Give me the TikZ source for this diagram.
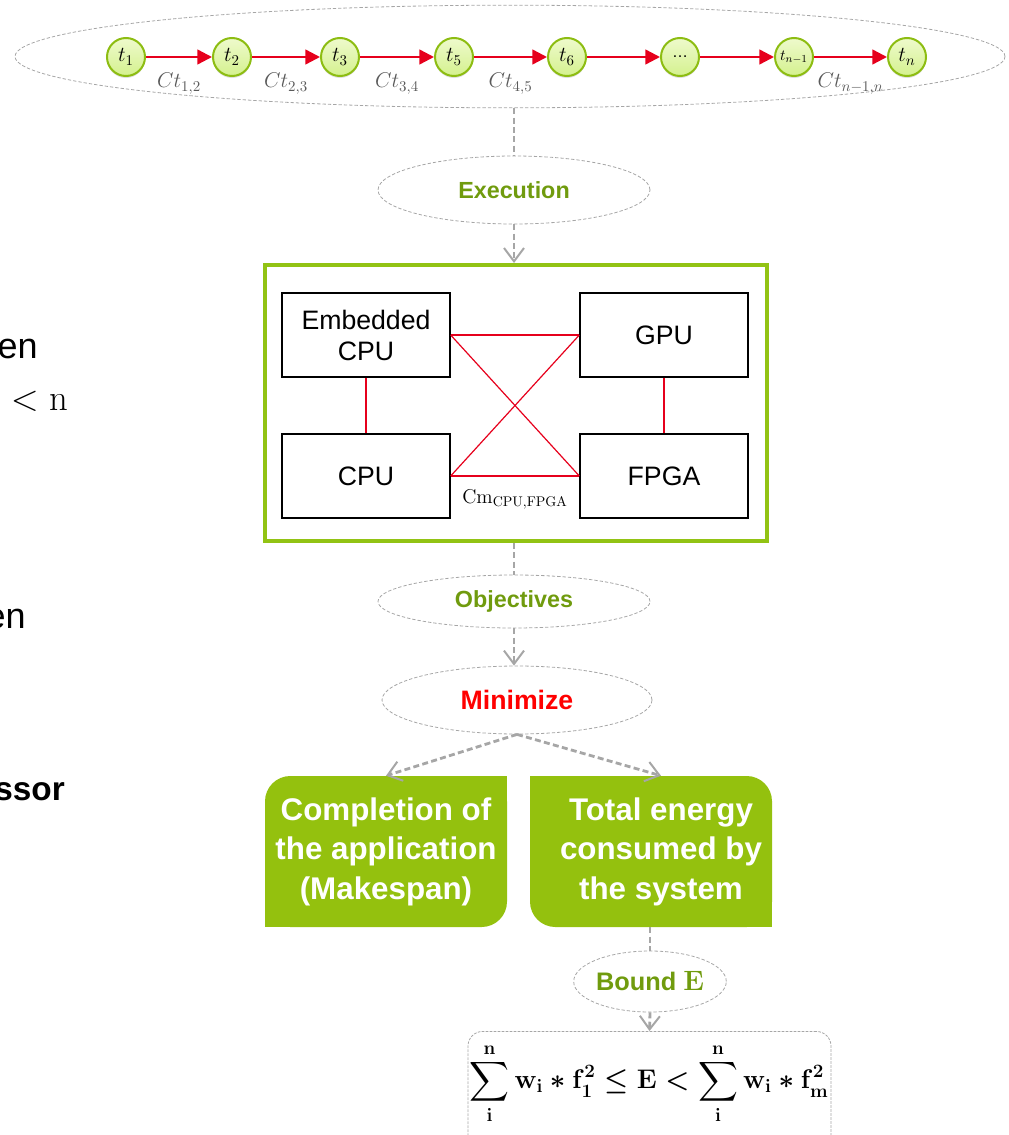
\RequirePackage{fix-cm}
\documentclass[tikz,border=0pt]{standalone}
\usepackage{exscale}
\usepackage[no-math]{fontspec}
\setmainfont{Liberation Sans}
\usetikzlibrary{positioning,arrows.meta,shapes.geometric,backgrounds,shadows}

\definecolor{taskrim}{RGB}{141,189,18}
\definecolor{tasktop}{RGB}{238,250,204}
\definecolor{taskbot}{RGB}{212,241,142}
\definecolor{taskred}{RGB}{230,0,28}
\definecolor{costgray}{RGB}{90,90,90}
\definecolor{dashgray}{RGB}{166,166,166}
\definecolor{stagegreen}{RGB}{112,155,14}
\definecolor{framegreen}{RGB}{146,195,20}
\definecolor{boxgreen}{RGB}{148,193,14}
\definecolor{minred}{RGB}{255,0,0}

\begin{document}
\begin{tikzpicture}[x=0.75pt,y=-0.75pt,
    task/.style={circle,draw=taskrim,line width=1.5pt,top color=tasktop,bottom color=taskbot,
      minimum size=28.5pt,inner sep=0pt,font=\fontsize{16}{18}\selectfont,
      drop shadow={shadow xshift=0pt,shadow yshift=-1.5pt,opacity=0.25}},
    flow/.style={draw=taskred,line width=1.8pt,-{Triangle[length=11pt,width=11pt]}},
    cost/.style={text=costgray,font=\fontsize{16}{18}\selectfont,below=8pt},
    stage/.style={ellipse,draw=dashgray,line width=0.6pt,dash pattern=on 2.5pt off 1.5pt,inner sep=0pt,
      text=stagegreen,font=\bfseries\fontsize{17.5}{20}\selectfont},
    link/.style={draw=dashgray,line width=2.1pt,dash pattern=on 4.5pt off 2.5pt},
    linkarrow/.style={link,-{Straight Barb[length=10pt,width=15pt,line width=1.5pt]}},
    unit/.style={draw=black,line width=1pt,minimum width=126pt,minimum height=63pt,inner sep=0pt,
      align=center,font=\fontsize{20}{23.25}\selectfont},
    bus/.style={draw=taskred,line width=0.9pt},
    goal/.style={text=white,align=center,inner sep=0pt,minimum height=113.25pt,
      font=\bfseries\fontsize{23.5}{29.6}\selectfont},
    cut/.style={anchor=base east,inner sep=0pt,font=\fontsize{27}{32}\selectfont}]
  \useasboundingbox (0,0) rectangle (1008,1135);

  % cut-off text on the left
  \node (cut1) [cut] at (38,358) {en};
  \node (cut2) [cut,font=\fontsize{27.5}{32}\selectfont] at (68,410) {$\mathrel{\textless}\mathrm{n}$};
  \node (cut3) [cut] at (26,628) {en};
  \node (cut4) [cut,font=\bfseries\fontsize{25}{30}\selectfont] at (65,800) {ssor};

  % task chain
  \node (chain) [stage,minimum width=742.5pt,minimum height=77pt] at (510,56.5) {};
  \node (t1) [task] at (126,57) {$t_1$};
  \node (t2) [task] at (232,57) {$t_2$};
  \node (t3) [task] at (340,57) {$t_3$};
  \node (t5) [task] at (454,57) {$t_5$};
  \node (t6) [task] at (567,57) {$t_6$};
  \node (tdots) [task] at (680,57) {\fontsize{12}{14}\selectfont\dots};
  \node (tm) [task,font=\fontsize{11.5}{13}\selectfont] at (794,57) {$t_{n-1}$};
  \node (tn) [task] at (907,57) {$t_n$};

  \draw [flow] (t1) -- node [cost] {$Ct_{1,2}$} (t2);
  \draw [flow] (t2) -- node [cost] {$Ct_{2,3}$} (t3);
  \draw [flow] (t3) -- node [cost] {$Ct_{3,4}$} (t5);
  \draw [flow] (t5) -- node [cost] {$Ct_{4,5}$} (t6);
  \draw [flow] (t6) -- (tdots);
  \draw [flow] (tdots) -- (tm);
  \draw [flow] (tm) -- node [cost] {$Ct_{n-1,n}$} (tn);

  % execution platform
  \node (exec) [stage,minimum width=204pt,minimum height=51pt] at (514,190) {Execution};
  \node (platform) [draw=framegreen,line width=3pt,minimum width=376.5pt,minimum height=207pt] at (516,403) {};
  \node (emb) [unit] at (366,335) {Embedded\\CPU};
  \node (gpu) [unit] at (664,335) {GPU};
  \node (cpu) [unit] at (366,476) {CPU};
  \node (fpga) [unit] at (664,476) {FPGA};

  \draw [bus] (emb.east) -- (gpu.west);
  \draw [bus] (cpu.east) -- (fpga.west);
  \draw [bus] (emb.east) -- (fpga.west);
  \draw [bus] (cpu.east) -- (gpu.west);
  \draw [bus] (emb) -- (cpu);
  \draw [bus] (gpu) -- (fpga);
  \node (cm) [font=\fontsize{15}{17}\selectfont] at (515,500) {$\mathrm{Cm}_{\mathrm{CPU,FPGA}}$};

  \draw [link] (exec.north |- chain.south) -- (exec.north);
  \draw [linkarrow] (exec.south) -- (exec.south |- platform.north);

  % objectives
  \node (obj) [stage,minimum width=204pt,minimum height=39.75pt] at (514,601.5) {Objectives};
  \node (minz) [stage,minimum width=202.5pt,minimum height=51pt,text=minred,
    font=\bfseries\fontsize{20}{22}\selectfont] at (517,700) {Minimize};
  \node (makespan) [goal] at (386,851.5) {Completion of\\the application\\(Makespan)};
  \node (energy) [goal] at (661,851.5) {Total energy\\consumed by\\the system};

  \begin{scope}[on background layer]
    \fill [boxgreen,rounded corners=19pt] (265,776) rectangle (507,927);
    \fill [boxgreen] (386,776) rectangle (507,851);
    \fill [boxgreen] (265,851) rectangle (386,927);
    \fill [boxgreen,rounded corners=19pt] (530,776) rectangle (772,927);
    \fill [boxgreen] (530,776) rectangle (651,851);
    \fill [boxgreen] (651,851) rectangle (772,927);
  \end{scope}

  \draw [link] (obj.north |- platform.south) -- (obj.north);
  \draw [linkarrow] (obj.south) -- (obj.south |- minz.north);
  \draw [linkarrow] (minz.south) -- (makespan.north);
  \draw [linkarrow] (minz.south) -- (energy.north);

  % energy bound
  \node (bound) [stage,minimum width=112.5pt,minimum height=45.75pt,
    font=\bfseries\fontsize{19}{21}\selectfont] at (650,981.5) {Bound {\fontsize{21}{24}\selectfont$\mathbf{E}$}};
  \node (fbox) [draw=dashgray,line width=0.6pt,dash pattern=on 2pt off 1pt,rounded corners=11pt,
    minimum width=272.25pt,minimum height=90pt,anchor=north] at (649.5,1031) {};
  \node (sumE) [font=\boldmath\fontsize{20.2}{24}\selectfont] at (649,1084) {$\displaystyle\sum_{\mathbf{i}}^{\mathbf{n}}\mathbf{w}_{\mathbf{i}}\ast\mathbf{f}_{\mathbf{1}}^{\mathbf{2}}\leq\mathbf{E}\mathrel{\textless}\sum_{\mathbf{i}}^{\mathbf{n}}\mathbf{w}_{\mathbf{i}}\ast\mathbf{f}_{\mathbf{m}}^{\mathbf{2}}$};

  \draw [link] (energy.south -| bound.north) -- (bound.north);
  \draw [linkarrow] (bound.south) -- (fbox.north);
\end{tikzpicture}
\end{document}
